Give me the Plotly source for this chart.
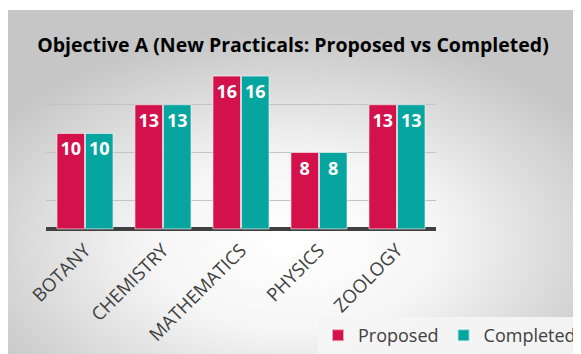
import base64
import plotly.graph_objects as go

subjects = ["BOTANY", "CHEMISTRY", "MATHEMATICS", "PHYSICS", "ZOOLOGY"]
proposed = [10, 13, 16, 8, 13]
completed = [10, 13, 16, 8, 13]

# page body has an 8px margin, so the figure is drawn 8px smaller
W, H = 573, 346
L, T = 38, 49
pw, ph = 390, 191
R, B = W - L - pw, H - T - ph

# radial grey-to-white backdrop like the office chart style
svg = """<svg xmlns='http://www.w3.org/2000/svg' width='576' height='344'>
<defs><radialGradient id='g' cx='50%' cy='68%' r='62%'>
<stop offset='0%' stop-color='#ffffff'/>
<stop offset='40%' stop-color='#f6f6f6'/>
<stop offset='100%' stop-color='#c6c6c6'/>
</radialGradient></defs>
<rect width='576' height='344' fill='url(#g)'/></svg>"""
bg = "data:image/svg+xml;base64," + base64.b64encode(svg.encode()).decode()

fig = go.Figure()
fig.add_trace(go.Bar(
    x=subjects, y=proposed, name="Proposed",
    marker=dict(color="#D3114B", line=dict(color="rgba(255,255,255,0.6)", width=1)),
    text=proposed, textposition="inside", insidetextanchor="end",
    textfont=dict(color="white", size=18, family="Open Sans"),
    texttemplate="<b>%{text}</b>", hoverinfo="skip",
))
fig.add_trace(go.Bar(
    x=subjects, y=completed, name="Completed",
    marker=dict(color="#07A5A0", line=dict(color="rgba(255,255,255,0.6)", width=1)),
    text=completed, textposition="inside", insidetextanchor="end",
    textfont=dict(color="white", size=18, family="Open Sans"),
    texttemplate="<b>%{text}</b>", hoverinfo="skip",
))

fig.update_layout(
    width=W, height=H,
    margin=dict(l=L, r=R, t=T, b=B, autoexpand=False),
    paper_bgcolor="white",
    plot_bgcolor="rgba(0,0,0,0)",
    barmode="group", bargap=0.27, bargroupgap=0.03,
    uniformtext=dict(minsize=18, mode="show"),
    font=dict(family="Open Sans", color="#404040"),
    title=dict(
        text="<b>Objective A (New Practicals: Proposed vs Completed)</b>",
        x=(293 - 8) / W, xanchor="center", y=1 - (45 - 8) / H, yanchor="middle",
        font=dict(size=19.5, color="black", family="Open Sans"),
    ),
    xaxis=dict(
        tickangle=-45, tickfont=dict(size=18.5, color="#404040"),
        showline=False, showgrid=False, ticks="", ticklabelstandoff=-13,
    ),
    yaxis=dict(
        range=[-2, 18], tick0=-2, dtick=5, showticklabels=False,
        showgrid=True, gridcolor="#c4c4c4", gridwidth=1,
        zeroline=True, zerolinecolor="#404040", zerolinewidth=4,
    ),
    legend=dict(
        orientation="h", x=(W - L) / pw, xanchor="right",
        y=(ph - (317 - 8 - T)) / ph, yanchor="top",
        bgcolor="rgba(244,244,244,0.95)",
        font=dict(size=18, color="#404040"),
        itemsizing="constant", itemwidth=30,
    ),
    images=[dict(
        source=bg, xref="paper", yref="paper",
        x=(-3 - L) / pw, y=(ph + T - 2) / ph,
        sizex=576 / pw, sizey=344 / ph,
        xanchor="left", yanchor="top", sizing="stretch", layer="below",
    )],
)

fig.write_html("out.html")
